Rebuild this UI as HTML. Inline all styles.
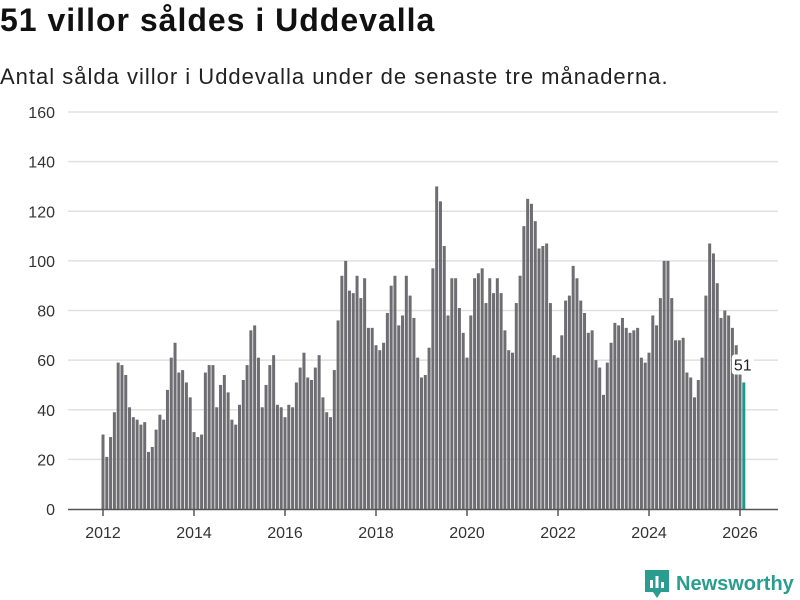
<!DOCTYPE html>
<html><head><meta charset="utf-8"><style>
body{margin:0;width:800px;height:600px;background:#fff;font-family:"Liberation Sans",sans-serif;overflow:hidden;position:relative}
#title{position:absolute;left:0;top:2px;font-size:32px;letter-spacing:1px;font-weight:bold;color:#111;margin:0}
#sub{position:absolute;left:0;top:64px;font-size:22px;letter-spacing:1px;color:#222}
svg{position:absolute;left:0;top:0}
</style></head><body>
<h1 id="title">51 villor såldes i Uddevalla</h1>
<div id="sub">Antal sålda villor i Uddevalla under de senaste tre månaderna.</div>
<svg id="chart" width="800" height="600"></svg>
<script>
const startYear = 2012;
const values = [30,21,29,39,59,58,54,41,37,36,34,35,
23,25,32,38,36,48,61,67,55,56,51,45,
31,29,30,55,58,58,41,50,54,47,36,34,
42,52,58,72,74,61,41,50,58,62,42,41,
37,42,41,51,57,63,53,52,57,62,45,39,
37,56,76,94,100,88,87,94,85,93,73,73,
66,64,67,79,90,94,74,78,94,86,77,61,
53,54,65,97,130,124,106,78,93,93,81,71,
61,78,93,95,97,83,93,87,93,87,72,64,
63,83,94,114,125,123,116,105,106,107,83,62,
61,70,84,86,98,93,84,79,71,72,60,57,
46,59,67,75,74,77,73,71,72,73,61,59,
63,78,74,85,100,100,85,68,68,69,55,53,
45,52,61,86,107,103,91,77,80,78,73,66,
58,51];
const yTicks = [0,20,40,60,80,100,120,140,160];
const xTicks = [2012,2014,2016,2018,2020,2022,2024,2026];
const NS='http://www.w3.org/2000/svg';
const svg=document.getElementById('chart');
const y=v=>509-v*(397/160);
const x=m=>103+m*(45.5/12);
function mk(t,a){const e=document.createElementNS(NS,t);for(const k in a)e.setAttribute(k,a[k]);svg.appendChild(e);return e;}
yTicks.forEach(t=>{
  if(t>0){const g=mk('line',{x1:68,x2:778,y1:y(t),y2:y(t),stroke:'#e0e0e0','stroke-width':1.5});
  
  }
  const l=mk('text',{x:55,y:y(t)+6,'text-anchor':'end','font-size':16,fill:'#333','font-family':'Liberation Sans'});
  l.textContent=t;
  
  
});
values.forEach((v,i)=>{
  const last=i===values.length-1;
  const r=mk('rect',{x:x(i)-1.5,y:y(v),width:3,height:509-y(v),fill:last?'#1f968b':'#6e6d72'});
  
  
});
const ax=mk('line',{x1:68,x2:778,y1:509.5,y2:509.5,stroke:'#555','stroke-width':1.5});


xTicks.forEach(t=>{
  const xx=x((t-startYear)*12);
  const tk=mk('line',{x1:xx,x2:xx,y1:509,y2:516,stroke:'#555','stroke-width':1.5});
  
  
  const l=mk('text',{x:xx,y:538,'text-anchor':'middle','font-size':16,fill:'#333','font-family':'Liberation Sans'});
  l.textContent=t;
  
  
});
const li=values.length-1;
const bg=mk('rect',{x:x(li)-12,y:y(values[li])-28,width:22,height:20,fill:'#fff',rx:3});


const vl=mk('text',{x:x(li)-1,y:y(values[li])-12,'text-anchor':'middle','font-size':16,fill:'#222','font-family':'Liberation Sans'});
vl.textContent=values[li];


</script>
<div style="position:absolute;left:645px;top:570px;display:flex;align-items:center">
<svg width="24" height="28" style="position:static"><path d="M0 0h24v22h-8l-4 6-4-6H0z" fill="#2a9d8f"/><rect x="5" y="10" width="3" height="8" fill="#fff"/><rect x="10.5" y="6" width="3" height="12" fill="#fff"/><rect x="16" y="12" width="3" height="6" fill="#fff"/></svg>
<span style="margin-left:7px;font-size:20px;font-weight:bold;color:#2a9d8f">Newsworthy</span></div>
</body></html>
